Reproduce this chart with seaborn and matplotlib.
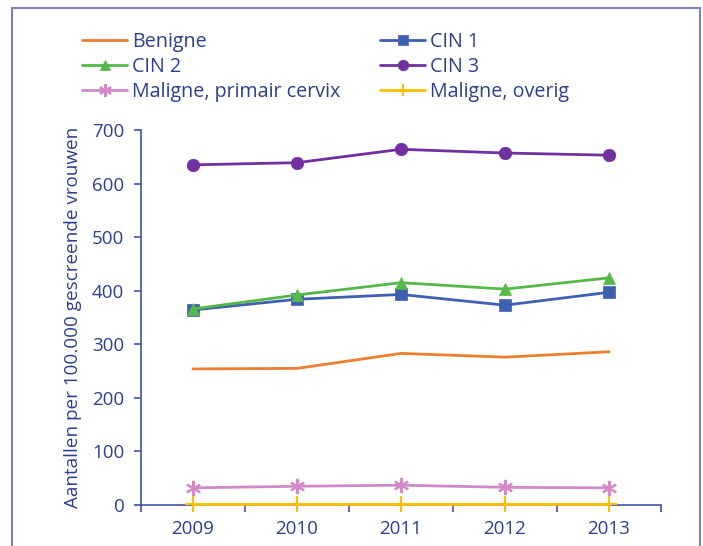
import matplotlib
matplotlib.use("Agg")
import matplotlib.pyplot as plt
import seaborn as sns
import pandas as pd
from matplotlib.lines import Line2D
from matplotlib.patches import Rectangle

years = [2009, 2010, 2011, 2012, 2013]
benigne = [254, 255, 283, 276, 286]
cin1 = [364, 384, 393, 373, 397]
cin2 = [366, 392, 415, 403, 424]
cin3 = [635, 639, 664, 657, 653]
maligne_primair = [32, 35, 37, 33, 32]
maligne_overig = [1, 1, 1, 1, 1]

series_names = ["Benigne", "CIN 1", "CIN 2", "CIN 3",
                "Maligne, primair cervix", "Maligne, overig"]
series_values = [benigne, cin1, cin2, cin3, maligne_primair, maligne_overig]
colors = ["#ed7d31", "#3f5fb0", "#55b848", "#7030a0", "#d289c8", "#ffc000"]
markers = [None, "s", "^", "o", (6, 2, 0), "+"]
msizes = [0, 8, 9, 9, 11, 11]

text_color = "#2e3f8f"
axis_color = "#3f55a5"

sns.set_theme(style="white")
plt.rcParams["font.family"] = ["Open Sans", "DejaVu Sans"]

fig = plt.figure(figsize=(7.03, 5.46), dpi=100)
ax = fig.add_axes([141 / 703, 1 - 505 / 546, 520 / 703, 375 / 546])

rows = []
for name, vals in zip(series_names, series_values):
    for y, v in zip(years, vals):
        rows.append({"year": y, "value": v, "series": name})
df = pd.DataFrame(rows)

handles = {}
for name, col, mk, ms in zip(series_names, colors, markers, msizes):
    sub = df[df["series"] == name]
    mew = 1.5 if mk in ["+", (6, 2, 0)] else 0.5
    kw = {}
    if mk is not None:
        kw = dict(marker=mk, markersize=ms, markeredgecolor=col,
                  markerfacecolor=col, markeredgewidth=mew)
    sns.lineplot(data=sub, x="year", y="value", color=col, linewidth=2,
                 ax=ax, legend=False, clip_on=False, zorder=3, **kw)
    handles[name] = Line2D([], [], color=col, linewidth=2, label=name,
                           marker=mk if mk is not None else None,
                           markersize=ms * 0.85, markerfacecolor=col, markeredgecolor=col,
                           markeredgewidth=mew)

ax.set_xlim(2008.5, 2013.5)
ax.set_ylim(0, 700)
ax.set_xticks(years)
ax.set_xticklabels([str(y) for y in years])
ax.set_xticks([2008.5 + i for i in range(6)], minor=True)
ax.tick_params(axis="x", which="major", length=0, pad=11, labelsize=13.5, labelcolor=text_color)
ax.tick_params(axis="x", which="minor", length=5, width=1.2, color=axis_color, direction="out", bottom=True)
ax.set_yticks(range(0, 701, 100))
ax.tick_params(axis="y", which="major", length=5, width=1.2, color=axis_color, direction="out",
               left=True, pad=7, labelsize=13.5, labelcolor=text_color)
ax.set_xlabel("")
ax.set_ylabel("Aantallen per 100.000 gescreende vrouwen", fontsize=13.6, color=text_color, labelpad=7)
for s in ["top", "right"]:
    ax.spines[s].set_visible(False)
for s in ["left", "bottom"]:
    ax.spines[s].set_color(axis_color)
    ax.spines[s].set_linewidth(1.2)
    ax.spines[s].set_zorder(2)
ax.grid(False)

order = ["Benigne", "CIN 2", "Maligne, primair cervix", "CIN 1", "CIN 3", "Maligne, overig"]
leg = fig.legend(handles=[handles[n] for n in order], ncol=2, loc="upper left",
                 bbox_to_anchor=(82 / 703, 1 - 32 / 546), frameon=False,
                 fontsize=14.2, handlelength=2.3, handletextpad=0.25,
                 columnspacing=2.0, labelspacing=0.25, borderaxespad=0, borderpad=0)
for t in leg.get_texts():
    t.set_color(text_color)

fig.patches.append(Rectangle((12 / 703, -0.05), 688 / 703, 1.05 - 8 / 546,
                             transform=fig.transFigure, fill=False,
                             edgecolor="#7b82c0", linewidth=1.5))

fig.savefig("out.png", dpi=100)
